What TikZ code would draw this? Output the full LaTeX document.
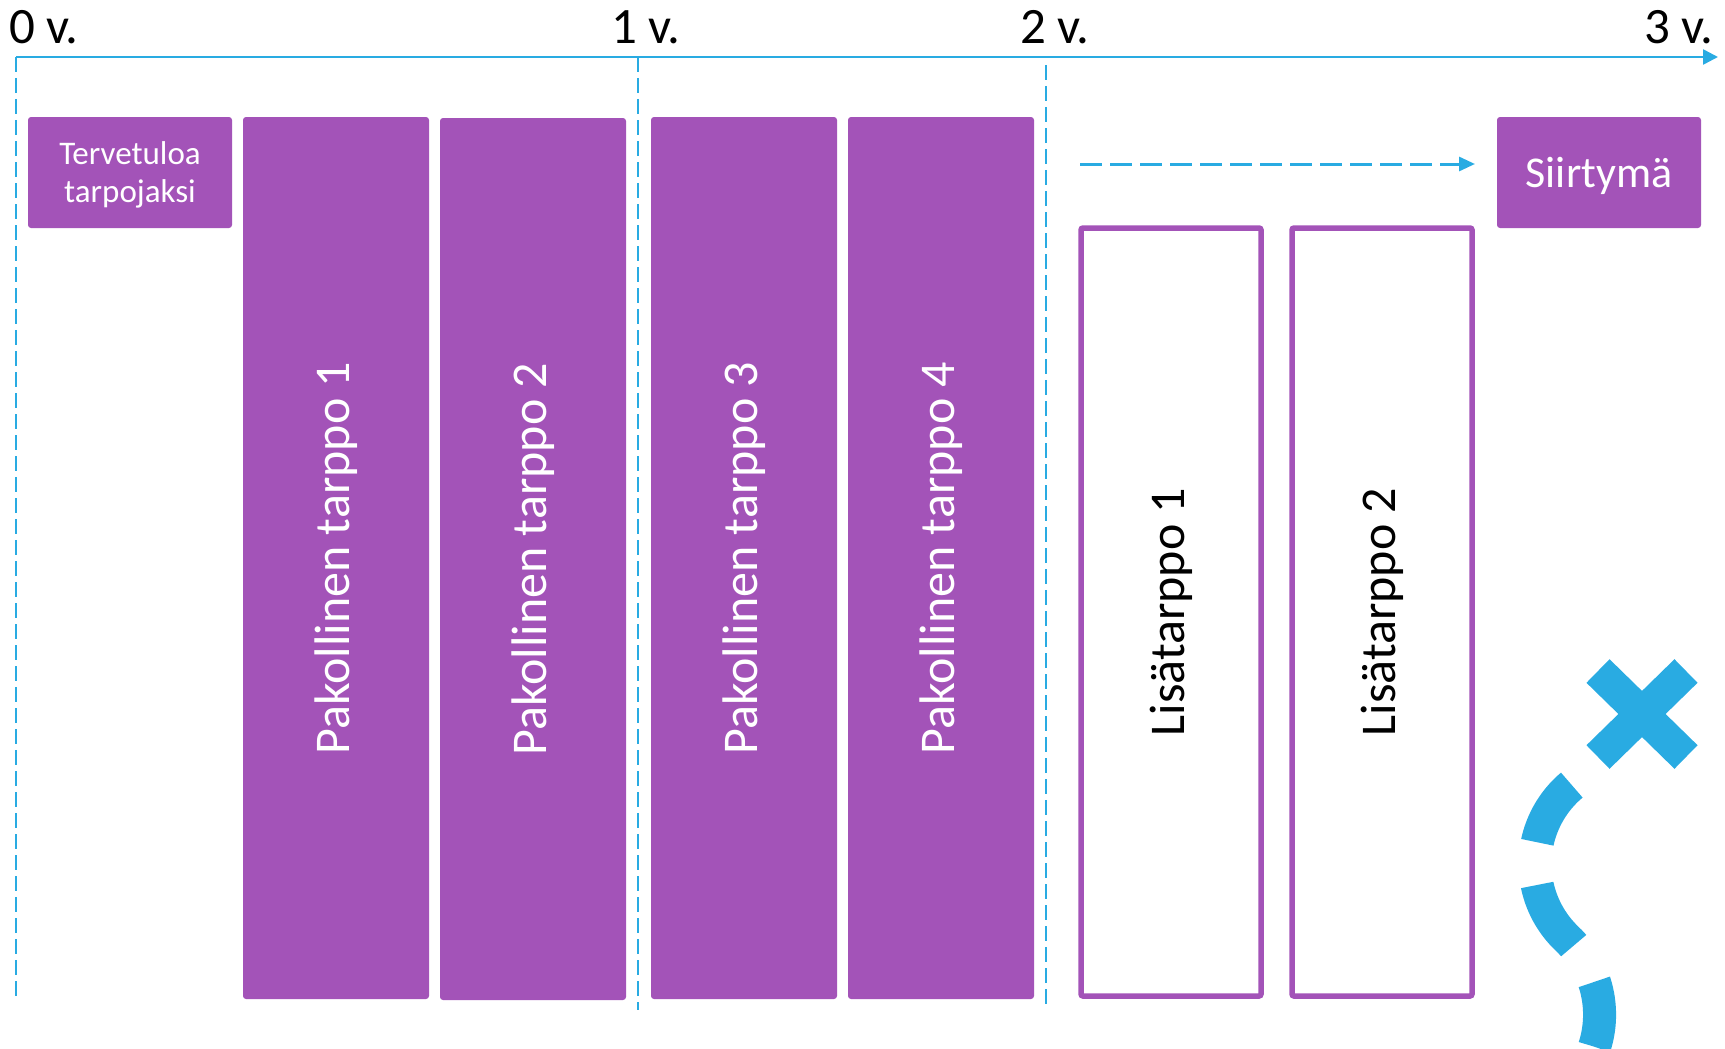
\documentclass[tikz,border=0pt]{standalone}
\usepackage{fontspec}
\setmainfont{Carlito}
\usetikzlibrary{arrows.meta}
\definecolor{tpurple}{HTML}{A353B8}
\definecolor{tblue}{HTML}{29ABE2}
\begin{document}
\begin{tikzpicture}[x=1pt,y=-1pt,
  fbox/.style={fill=tpurple, rounded corners=3pt, inner sep=0pt, outer sep=0pt, anchor=north west, text=white},
  obox/.style={draw=tpurple, line width=5.5pt, rounded corners=2pt, inner sep=0pt, outer sep=0pt, anchor=north west, text=black},
  tall/.style={minimum width=186pt, minimum height=882pt},
  otall/.style={minimum width=180pt, minimum height=768pt},
  bigtxt/.style={font=\fontsize{50}{60}\selectfont},
  yearlbl/.style={anchor=base west, inner sep=0pt, font=\fontsize{51}{60}\selectfont},
  vdash/.style={draw=tblue, line width=2pt, dash pattern=on 15pt off 6pt},
  axisline/.style={draw=tblue, line width=2.5pt, -{Triangle[length=15pt,width=15pt]}},
  harrow/.style={draw=tblue, line width=3pt, dash pattern=on 22pt off 8pt, -{Triangle[length=16pt,width=14pt]}},
  xmark/.style={draw=tblue, line width=33pt, line cap=butt}
]
\useasboundingbox (0,0) rectangle (1725,1049);

% axis
\coordinate (t0) at (16,57);
\coordinate (t1) at (638,57);
\coordinate (t2) at (1046,65);
\coordinate (tend) at (1718,57);
\coordinate (b0) at (16,996);
\coordinate (b1) at (638,1010);
\coordinate (b2) at (1046,1004);
\draw[axisline] (t0) -- (tend);
\draw[vdash] (t0) -- (b0);
\draw[vdash] (t1) -- (b1);
\draw[vdash] (t2) -- (b2);

\node[yearlbl] (y0) at (9,44) {0 v.};
\node[yearlbl] (y1) at (611,44) {1 v.};
\node[yearlbl] (y2) at (1020,44) {2 v.};
\node[yearlbl] (y3) at (1644,44) {3 v.};

% boxes
\node[fbox, minimum width=204pt, minimum height=111pt,
      font=\fontsize{33}{38}\selectfont] (terv) at (28,117)
      {\raisebox{-3.5pt}[\height][\depth]{\begin{tabular}{@{}c@{}}Tervetuloa\\tarpojaksi\end{tabular}}};
\node[fbox, tall, bigtxt] (p1) at (243,117) {\rotatebox{90}{Pakollinen tarppo 1}};
\node[fbox, tall, bigtxt] (p2) at (440,118) {\rotatebox{90}{Pakollinen tarppo 2}};
\node[fbox, tall, bigtxt] (p3) at (651,117) {\rotatebox{90}{Pakollinen tarppo 3}};
\node[fbox, tall, bigtxt] (p4) at (848,117) {\rotatebox{90}{Pakollinen tarppo 4}};
\node[obox, otall, bigtxt] (l1) at (1081,228) {\rotatebox{90}{Lisätarppo 1}};
\node[obox, otall, bigtxt] (l2) at (1292,228) {\rotatebox{90}{Lisätarppo 2}};
\node[fbox, minimum width=204pt, minimum height=111pt,
      font=\fontsize{44}{52}\selectfont] (siir) at (1497,117)
      {\raisebox{-3.5pt}[\height][\depth]{Siirtymä}};

% dashed arrow towards Siirtymä
\coordinate (ha) at (1080,164);
\coordinate (hb) at (1475,164);
\draw[harrow] (ha) -- (hb);

% X mark
\draw[xmark] (1598,671) -- (1686,757);
\draw[xmark] (1686,671) -- (1598,757);

% dashed route
\draw[draw=tblue, line width=33pt, line cap=butt,
      dash pattern=on 68pt off 43pt on 72pt off 42pt on 66pt off 43pt]
  (1571.8,785.1) arc[start angle=-130, end angle=-226.4, radius=103]
  arc[start angle=-46.4, end angle=30, radius=105];
\end{tikzpicture}
\end{document}
